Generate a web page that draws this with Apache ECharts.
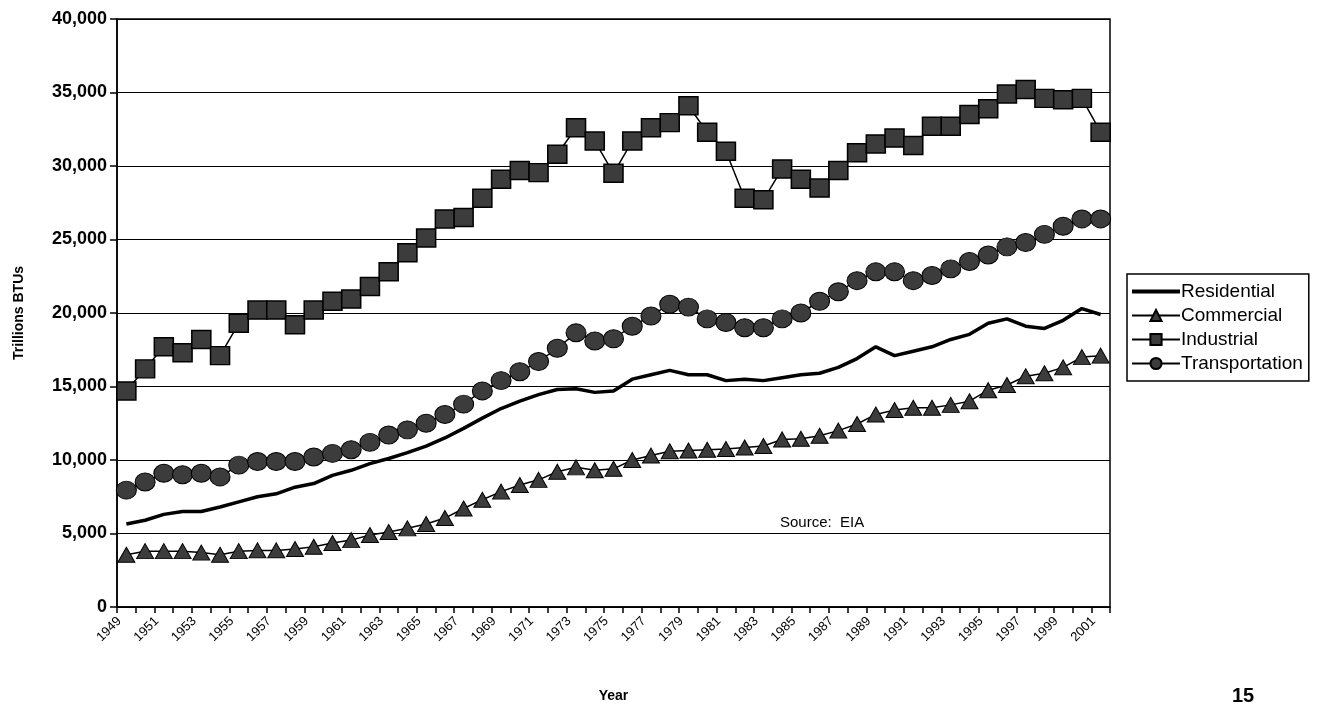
<!DOCTYPE html>
<html>
<head>
<meta charset="utf-8">
<script src="https://cdn.jsdelivr.net/npm/echarts@6/dist/echarts.min.js"></script>
<style>
html,body{margin:0;padding:0;background:#fff;}
#chart{width:1319px;height:704px;}
</style>
</head>
<body>
<div id="chart"></div>
<script>
var years = ['1949','1950','1951','1952','1953','1954','1955','1956','1957','1958',
  '1959','1960','1961','1962','1963','1964','1965','1966','1967','1968',
  '1969','1970','1971','1972','1973','1974','1975','1976','1977','1978',
  '1979','1980','1981','1982','1983','1984','1985','1986','1987','1988',
  '1989','1990','1991','1992','1993','1994','1995','1996','1997','1998',
  '1999','2000','2001'];

var residential = [5650,5900,6300,6500,6500,6800,7150,7500,7700,8150,
  8400,8950,9300,9750,10100,10500,10950,11500,12150,12850,
  13500,14000,14450,14800,14850,14600,14700,15500,15800,16100,
  15800,15800,15400,15500,15400,15600,15800,15900,16300,16900,
  17700,17100,17400,17700,18200,18550,19300,19600,19100,18950,
  19500,20300,19900];

var commercial = [3550,3800,3800,3800,3700,3550,3800,3850,3850,3950,
  4100,4350,4550,4900,5100,5350,5650,6050,6700,7300,
  7850,8300,8650,9200,9500,9300,9400,10000,10300,10600,
  10650,10700,10750,10850,10950,11400,11450,11650,12000,12450,
  13100,13400,13550,13550,13750,14000,14750,15100,15700,15900,
  16300,17000,17100];

var industrial = [14700,16200,17700,17300,18200,17100,19300,20200,20200,19200,
  20200,20800,20950,21800,22800,24100,25100,26400,26500,27800,
  29100,29700,29550,30800,32600,31700,29500,31700,32600,32950,
  34100,32300,31000,27800,27700,29800,29100,28500,29700,30900,
  31500,31900,31400,32700,32700,33500,33900,34900,35200,34600,
  34500,34600,32300];

var transportation = [7950,8500,9100,9000,9100,8850,9650,9900,9900,9900,
  10200,10450,10700,11200,11700,12050,12500,13100,13800,14700,
  15400,16000,16700,17600,18650,18100,18250,19100,19800,20600,
  20400,19600,19350,19000,19000,19600,20000,20800,21450,22200,
  22800,22800,22200,22550,23000,23500,23950,24500,24800,25350,
  25900,26400,26400];

var seriesNames = ['Residential','Commercial','Industrial','Transportation'];
var yTicks = {min: 0, max: 40000, interval: 5000};

var FONT = 'Liberation Sans, Arial, sans-serif';
var markerFill = '#3c3c3c';

var chart = echarts.init(document.getElementById('chart'), null, {renderer: 'canvas'});
chart.setOption({
  backgroundColor: '#ffffff',
  animation: false,
  textStyle: {fontFamily: FONT, color: '#000'},
  grid: {
    left: 117, right: 209, top: 19, bottom: 97,
    outerBoundsMode: 'none',
    containLabel: false,
    show: true, borderColor: '#000', borderWidth: 1.5, backgroundColor: 'transparent'
  },
  legend: {
    orient: 'vertical',
    left: 1127, top: 274,
    data: [
      {name: seriesNames[0], itemStyle: {opacity: 0}, lineStyle: {width: 4, color: '#000'}},
      {name: seriesNames[1]},
      {name: seriesNames[2]},
      {name: seriesNames[3]}
    ],
    itemWidth: 48, itemHeight: 14, itemGap: 5,
    padding: [8, 6, 8, 3],
    borderColor: '#000', borderWidth: 1.5,
    textStyle: {fontFamily: FONT, fontSize: 19, color: '#000', padding: [0, 0, 0, -4]}
  },
  xAxis: {
    type: 'category',
    data: years,
    boundaryGap: true,
    name: 'Year',
    nameLocation: 'middle',
    nameGap: 82,
    nameTextStyle: {fontFamily: FONT, fontSize: 14, fontWeight: 'bold', color: '#000'},
    axisLine: {lineStyle: {color: '#000', width: 1.5}},
    axisTick: {show: true, interval: 0, length: 6, lineStyle: {color: '#000', width: 1.5}},
    axisLabel: {interval: 1, rotate: 45, fontSize: 13, color: '#000', fontFamily: FONT,
      margin: 5, padding: [0, 10, 0, 0]}
  },
  yAxis: {
    type: 'value',
    min: yTicks.min, max: yTicks.max, interval: yTicks.interval,
    name: 'Trillions BTUs',
    nameLocation: 'middle',
    nameGap: 91,
    nameRotate: 90,
    nameTextStyle: {fontFamily: FONT, fontSize: 14, fontWeight: 'bold', color: '#000'},
    axisLine: {show: true, lineStyle: {color: '#000', width: 1.5}},
    axisTick: {show: true, length: 7, lineStyle: {color: '#000', width: 1.5}},
    axisLabel: {
      fontSize: 18, fontWeight: 'bold', color: '#000', fontFamily: FONT, margin: 10,
      formatter: function (v) { return v.toLocaleString('en-US'); }
    },
    splitLine: {show: true, lineStyle: {color: '#000', width: 1.2}}
  },
  series: [
    {
      name: 'Residential', type: 'line', data: residential,
      symbol: 'none',
      lineStyle: {color: '#000', width: 3.5},
      itemStyle: {color: '#000'}
    },
    {
      name: 'Commercial', type: 'line', data: commercial,
      symbol: 'triangle', symbolSize: [17, 15], showAllSymbol: true,
      lineStyle: {color: '#000', width: 1.5},
      itemStyle: {color: markerFill, borderColor: '#000', borderWidth: 1}
    },
    {
      name: 'Industrial', type: 'line', data: industrial,
      symbol: 'rect', symbolSize: [19, 18], showAllSymbol: true,
      lineStyle: {color: '#000', width: 1.5},
      itemStyle: {color: markerFill, borderColor: '#000', borderWidth: 1.5}
    },
    {
      name: 'Transportation', type: 'line', data: transportation,
      symbol: 'circle', symbolSize: [20, 18], showAllSymbol: true,
      lineStyle: {color: '#000', width: 1.5},
      itemStyle: {color: markerFill, borderColor: '#000', borderWidth: 1}
    }
  ],
  graphic: [
    {type: 'text', left: 780, top: 515,
      style: {text: 'Source:  EIA', font: '15px ' + FONT, fill: '#000'}},
    {type: 'text', left: 1232, top: 686,
      style: {text: '15', font: 'bold 20px ' + FONT, fill: '#000'}}
  ]
});
</script>
</body>
</html>
